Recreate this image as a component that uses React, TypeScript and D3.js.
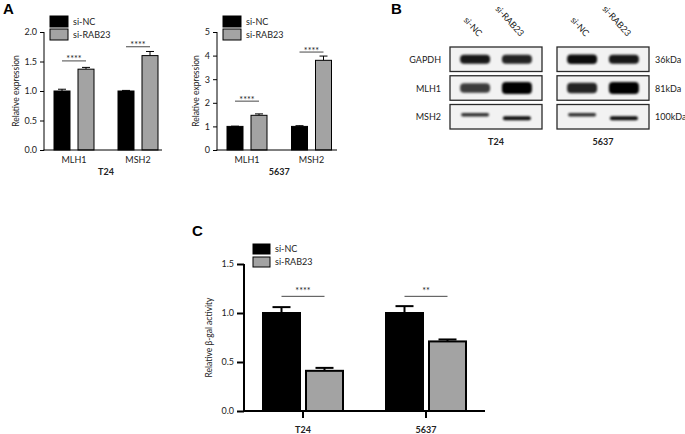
import React, { useEffect, useRef } from 'react';
import * as d3 from 'd3';

// panel A / C data
const seriesNames = ['si-NC', 'si-RAB23'];
const genes = ['MLH1', 'MSH2'];

const t24NC = [1.0, 1.0];
const t24NCErr = [0.03, 0.01];
const t24RAB = [1.37, 1.6];
const t24RABErr = [0.03, 0.07];
const t24Sig = [1.51, 1.75];

const c5637NC = [1.0, 1.0];
const c5637NCErr = [0.01, 0.03];
const c5637RAB = [1.47, 3.8];
const c5637RABErr = [0.06, 0.18];
const c5637Sig = [2.07, 4.15];

const cells = ['T24', '5637'];
const galNC = [1.0, 1.0];
const galNCErr = [0.06, 0.07];
const galRAB = [0.41, 0.71];
const galRABErr = [0.03, 0.02];
const galSig = [1.17, 1.17];
const galSigLabel = ['****', '**'];

// panel B (western blot)
const blotRows = ['GAPDH', 'MLH1', 'MSH2'];
const blotKDa = ['36kDa', '81kDa', '100kDa'];
const blotCells = ['T24', '5637'];
// band intensity per lane: T24 si-NC, T24 si-RAB23, 5637 si-NC, 5637 si-RAB23
const gapdhBands = [0.9, 0.85, 0.95, 0.9];
const mlh1Bands = [0.75, 1.0, 0.85, 1.0];
const msh2Bands = [0.8, 0.95, 0.8, 0.95];

const FONT = "Lato, 'Open Sans', sans-serif";
const GREY = '#a3a3a3';

interface BarCfg {
  x0: number; x1: number; catRange: [number, number]; yBottom: number; yTop: number;
  max: number; ticks: number[]; fmt: (d: number) => string;
  cats: string[]; nc: number[]; ncErr: number[]; rab: number[]; rabErr: number[];
  sig: number[]; sigLabel: string[];
  half: number; barW: number;
  lw: number; capW: number; tickLen: number; tickPad: number; catTicks: boolean;
  yLabel: string; yLabelX: number;
  title: string; catLabelY: number; titleY: number | null; catBold: boolean;
  legendX: number; legendY: number; legendW: number; legendH: number; legendGap: number;
  fs: number; starY: number;
}

const drawBars = (svg: d3.Selection<SVGSVGElement, unknown, null, undefined>, c: BarCfg) => {
  const g = svg.append('g');
  const y = d3.scaleLinear().domain([0, c.max]).range([c.yBottom, c.yTop]);
  const x = d3.scalePoint<string>().domain(c.cats).range(c.catRange);
  const step = c.half * 2;
  const inner = d3.scaleBand<string>().domain(seriesNames).range([-c.half, c.half])
    .paddingInner((step - 2 * c.barW) / (step - c.barW));

  // y axis
  const ya = g.append('g')
    .attr('transform', `translate(${c.x0},0)`)
    .call(d3.axisLeft(y).tickValues(c.ticks).tickFormat(c.fmt as any)
      .tickSize(c.tickLen).tickPadding(c.tickPad).tickSizeOuter(0));
  ya.select('.domain').attr('stroke-width', c.lw).attr('d', `M0,${c.yTop}V${c.yBottom + c.lw / 2}`);
  ya.selectAll('.tick line').attr('stroke-width', c.lw);
  ya.selectAll('.tick text').attr('font-family', FONT).attr('font-size', c.fs).attr('fill', '#222');

  // bars
  const rows = c.cats.map((cat, i) => [
    { cat, s: seriesNames[0], v: c.nc[i], e: c.ncErr[i], fill: '#000' },
    { cat, s: seriesNames[1], v: c.rab[i], e: c.rabErr[i], fill: GREY },
  ]).flat();
  const mid = (d: { cat: string; s: string }) => x(d.cat)! + inner(d.s)! + inner.bandwidth() / 2;

  g.selectAll('line.err').data(rows).enter().append('line')
    .attr('x1', mid).attr('x2', mid)
    .attr('y1', d => y(d.v)).attr('y2', d => y(d.v + d.e))
    .attr('stroke', '#000').attr('stroke-width', c.lw);
  g.selectAll('line.cap').data(rows).enter().append('line')
    .attr('x1', d => mid(d) - c.capW / 2)
    .attr('x2', d => mid(d) + c.capW / 2)
    .attr('y1', d => y(d.v + d.e)).attr('y2', d => y(d.v + d.e))
    .attr('stroke', '#000').attr('stroke-width', c.lw);

  g.selectAll('rect.bar').data(rows).enter().append('rect')
    .attr('x', d => x(d.cat)! + inner(d.s)!)
    .attr('y', d => y(d.v))
    .attr('width', inner.bandwidth())
    .attr('height', d => y(0) - y(d.v))
    .attr('fill', d => d.fill)
    .attr('stroke', '#000').attr('stroke-width', c.lw);

  // x axis
  g.append('line').attr('x1', c.x0 - c.lw / 2).attr('x2', c.x1).attr('y1', y(0)).attr('y2', y(0))
    .attr('stroke', '#000').attr('stroke-width', c.lw);
  if (c.catTicks) {
    g.selectAll('line.ct').data(c.cats).enter().append('line')
      .attr('x1', d => x(d)!).attr('x2', d => x(d)!)
      .attr('y1', y(0)).attr('y2', y(0) + c.tickLen)
      .attr('stroke', '#000').attr('stroke-width', c.lw);
  }
  g.selectAll('text.cat').data(c.cats).enter().append('text')
    .attr('x', d => x(d)!).attr('y', c.catLabelY)
    .attr('text-anchor', 'middle').attr('font-family', FONT).attr('font-size', c.fs)
    .attr('font-weight', c.catBold ? 700 : 400).attr('fill', '#222')
    .text(d => d);

  // significance
  c.cats.forEach((cat, i) => {
    const xa = mid({ cat, s: seriesNames[0] });
    const xb = mid({ cat, s: seriesNames[1] });
    g.append('line').attr('x1', xa).attr('x2', xb).attr('y1', y(c.sig[i])).attr('y2', y(c.sig[i]))
      .attr('stroke', '#333').attr('stroke-width', 0.9);
    g.append('text').attr('x', (xa + xb) / 2).attr('y', y(c.sig[i]) + c.starY)
      .attr('text-anchor', 'middle').attr('font-family', FONT).attr('font-size', c.fs)
      .attr('fill', '#222').text(c.sigLabel[i]);
  });

  // y label
  g.append('text')
    .attr('transform', `translate(${c.yLabelX},${(c.yTop + c.yBottom) / 2}) rotate(-90)`)
    .attr('text-anchor', 'middle').attr('font-family', FONT).attr('font-size', c.fs - 0.5)
    .attr('fill', '#222').text(c.yLabel);

  if (c.titleY !== null) {
    g.append('text').attr('x', (x(c.cats[0])! + x(c.cats[c.cats.length - 1])!) / 2).attr('y', c.titleY)
      .attr('text-anchor', 'middle').attr('font-family', FONT).attr('font-size', c.fs)
      .attr('font-weight', 700).attr('fill', '#222').text(c.title);
  }

  // legend
  seriesNames.forEach((s, i) => {
    const ly = c.legendY + i * c.legendGap;
    g.append('rect').attr('x', c.legendX).attr('y', ly).attr('width', c.legendW).attr('height', c.legendH)
      .attr('fill', i === 0 ? '#000' : GREY).attr('stroke', '#000').attr('stroke-width', 1);
    g.append('text').attr('x', c.legendX + c.legendW + 5).attr('y', ly + c.legendH / 2 + 3)
      .attr('font-family', FONT).attr('font-size', c.fs).attr('fill', '#222').text(s);
  });
};

const App: React.FC = () => {
  const svgRef = useRef<SVGSVGElement>(null);

  useEffect(() => {
    if (!svgRef.current) return;
    const svg = d3.select(svgRef.current);
    svg.selectAll('*').remove();

    const letter = (t: string, x: number, yy: number) =>
      svg.append('text').attr('x', x).attr('y', yy).attr('font-family', "'Liberation Sans', Arial, sans-serif")
        .attr('font-size', 15).attr('font-weight', 700).text(t);
    letter('A', 3, 14);
    letter('B', 391, 14);
    letter('C', 192, 236);

    const base = {
      cats: genes, sigLabel: ['****', '****'], half: 20, barW: 16,
      lw: 1, capW: 8, tickLen: 4, tickPad: 3, catTicks: false,
      yLabel: 'Relative expression', catLabelY: 163, titleY: 175, catBold: false,
      legendW: 18, legendH: 11, legendGap: 13, fs: 9, starY: 1.5,
      yBottom: 150, yTop: 32,
    };

    drawBars(svg, {
      ...base, x0: 44, x1: 162, catRange: [74, 138],
      max: 2, ticks: [0, 0.5, 1, 1.5, 2], fmt: d3.format('.1f'),
      nc: t24NC, ncErr: t24NCErr, rab: t24RAB, rabErr: t24RABErr, sig: t24Sig,
      yLabelX: 18.5, title: 'T24', legendX: 50, legendY: 16,
    });
    drawBars(svg, {
      ...base, x0: 217, x1: 337, catRange: [247, 311.5],
      max: 5, ticks: [0, 1, 2, 3, 4, 5], fmt: d3.format('d'),
      nc: c5637NC, ncErr: c5637NCErr, rab: c5637RAB, rabErr: c5637RABErr, sig: c5637Sig,
      yLabelX: 198.5, title: '5637', legendX: 223, legendY: 16,
    });
    drawBars(svg, {
      x0: 244, x1: 485, catRange: [303, 426], yBottom: 411, yTop: 264,
      max: 1.5, ticks: [0, 0.5, 1, 1.5], fmt: d3.format('.1f'),
      cats: cells, nc: galNC, ncErr: galNCErr, rab: galRAB, rabErr: galRABErr,
      sig: galSig, sigLabel: galSigLabel, half: 40, barW: 37,
      lw: 2, capW: 18, tickLen: 7, tickPad: 3, catTicks: true,
      yLabel: 'Relative β-gal activity', yLabelX: 212,
      title: '', catLabelY: 433, titleY: null, catBold: true,
      legendX: 253, legendY: 244, legendW: 17, legendH: 10, legendGap: 13, fs: 9, starY: -2,
    });

    // panel B: western blot
    const defs = svg.append('defs');
    defs.append('filter').attr('id', 'blur').attr('x', '-30%').attr('y', '-100%').attr('width', '160%').attr('height', '300%')
      .append('feGaussianBlur').attr('stdDeviation', 1.3);

    const gb = svg.append('g');
    const bx = d3.scaleBand<string>().domain(blotCells).range([450, 649]).paddingInner(15 / 107);
    const by = d3.scaleBand<string>().domain(blotRows).range([47, 129]).paddingInner(0.148);
    const lane = d3.scalePoint<string>().domain(seriesNames).range([0, bx.bandwidth()]).padding(0.6);
    const bandData = [gapdhBands, mlh1Bands, msh2Bands];
    const thick = [d3.scaleLinear().domain([0, 1]).range([2, 10]),
      d3.scaleLinear().domain([0, 1]).range([2, 12]),
      d3.scaleLinear().domain([0, 1]).range([1, 4])];
    const bandW = [30, 30, 28];

    blotRows.forEach((r, ri) => {
      blotCells.forEach((cell, ci) => {
        gb.append('rect').attr('x', bx(cell)!).attr('y', by(r)!).attr('width', bx.bandwidth()).attr('height', by.bandwidth())
          .attr('fill', '#f2f2f2').attr('stroke', '#2a2a2a').attr('stroke-width', 1.3);
        seriesNames.forEach((s, si) => {
          const v = bandData[ri][ci * 2 + si];
          const h = thick[ri](v);
          const cx = bx(cell)! + lane(s)!;
          const cy = by(r)! + by.bandwidth() / 2 + (ri === 2 ? (si === 0 ? -2 : 1.5) : 0);
          gb.append('rect').attr('x', cx - bandW[ri] / 2).attr('y', cy - h / 2)
            .attr('width', bandW[ri]).attr('height', h).attr('rx', Math.min(h / 2, 4))
            .attr('fill', '#000').attr('opacity', v).attr('filter', 'url(#blur)');
        });
      });
      gb.append('text').attr('x', 441).attr('y', by(r)! + by.bandwidth() / 2 + 3.5)
        .attr('text-anchor', 'end').attr('font-family', FONT).attr('font-size', 9).attr('fill', '#222').text(r);
      gb.append('text').attr('x', 655).attr('y', by(r)! + by.bandwidth() / 2 + 3.5)
        .attr('font-family', FONT).attr('font-size', 9).attr('fill', '#222').text(blotKDa[ri]);
    });

    blotCells.forEach(cell => {
      seriesNames.forEach(s => {
        const ex = bx(cell)! + lane(s)! + 3;
        gb.append('text').attr('transform', `translate(${ex},37) rotate(48)`)
          .attr('text-anchor', 'end').attr('font-family', FONT).attr('font-size', 9)
          .attr('fill', '#222').text(s);
      });
      gb.append('text').attr('x', bx(cell)! + bx.bandwidth() / 2).attr('y', 145)
        .attr('text-anchor', 'middle').attr('font-family', FONT).attr('font-size', 9)
        .attr('font-weight', 700).attr('fill', '#222').text(cell);
    });
  }, []);

  return (
    <div style={{ position: 'absolute', left: 0, top: 0, width: 685, height: 434, background: '#fff' }}>
      <svg ref={svgRef} width={685} height={434}></svg>
    </div>
  );
};

export default App;
